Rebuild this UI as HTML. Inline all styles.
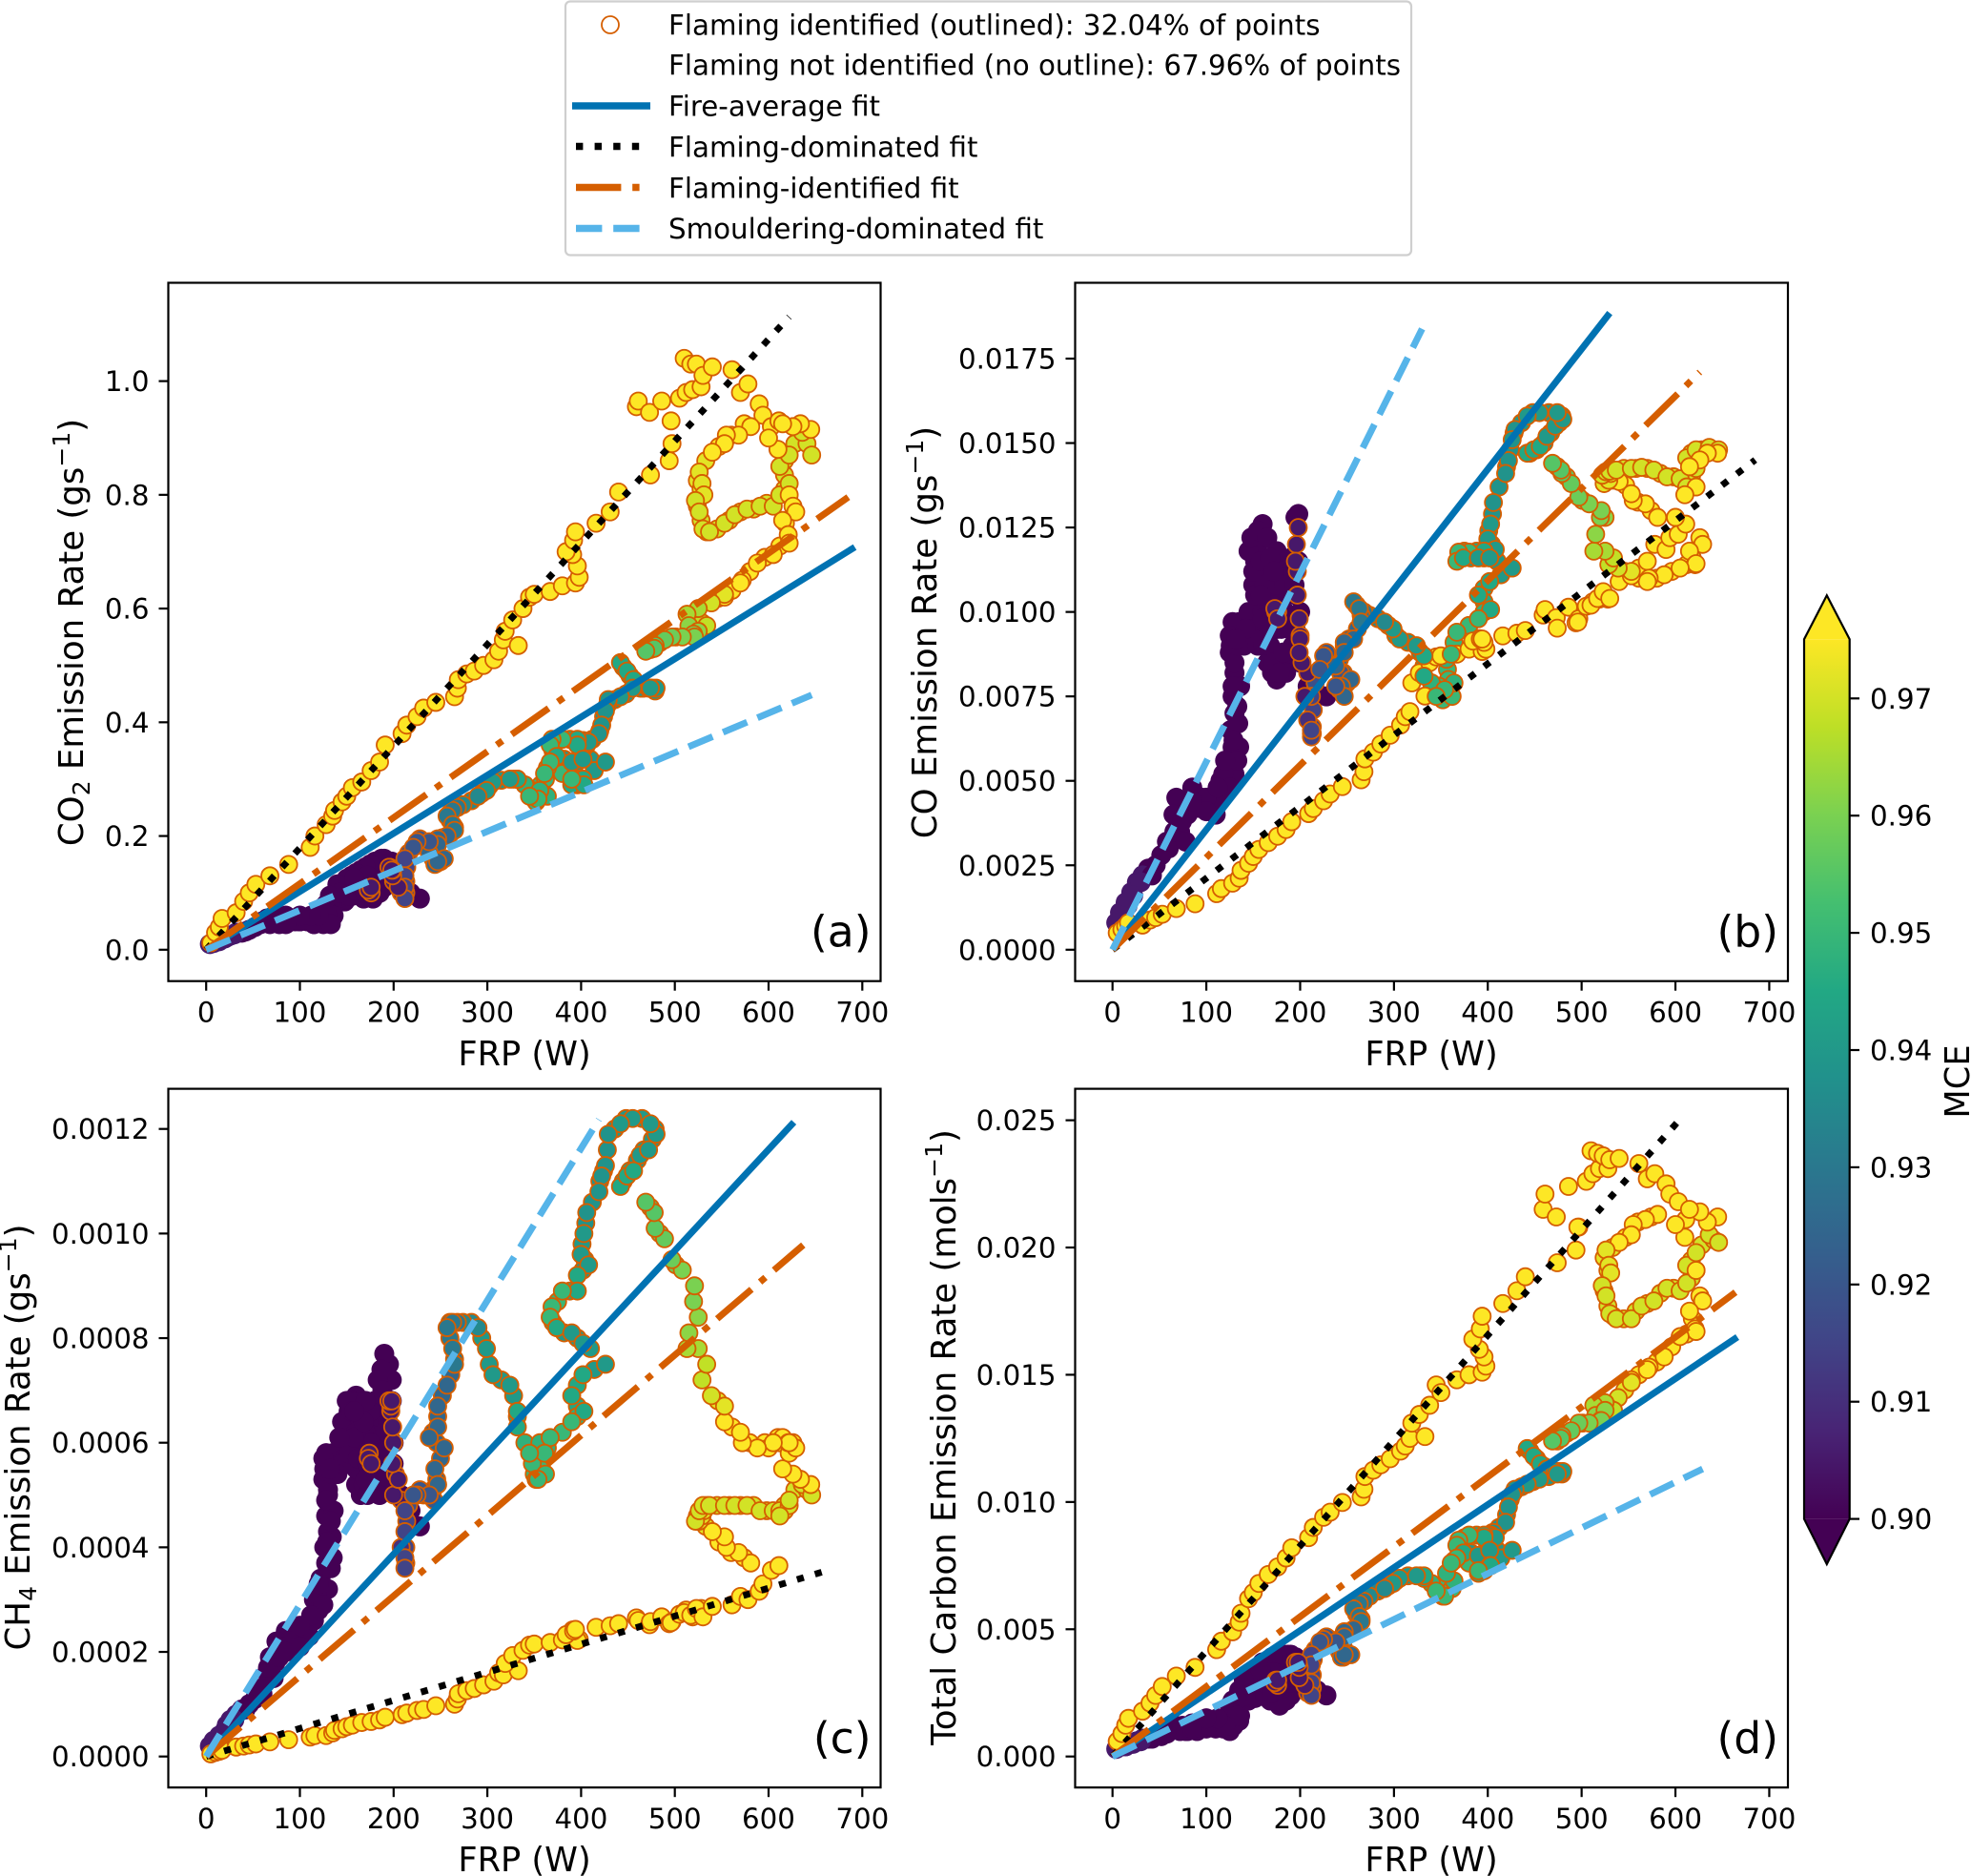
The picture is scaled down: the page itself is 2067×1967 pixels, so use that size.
<!DOCTYPE html>
<html lang="en">
<head>
<meta charset="utf-8">
<title>Emission rate versus FRP</title>
<style>
html,body{margin:0;padding:0;background:#fff;}
svg{display:block;font-family:"DejaVu Sans","Liberation Sans",sans-serif;}
text{fill:#000;}
</style>
</head>
<body>
<svg id="chart" xmlns="http://www.w3.org/2000/svg" width="2067" height="1967" viewBox="0 0 2067 1967">
  <defs>
    <linearGradient id="viridis-gradient" x1="0" y1="1" x2="0" y2="0"></linearGradient>
  </defs>
  <rect x="0" y="0" width="2067" height="1967" fill="#fff"/>
  <g id="panels"></g>

  <g>
    <text x="550" y="1117" font-size="35.2" text-anchor="middle">FRP (W)</text>
    <text x="1501" y="1117" font-size="35.2" text-anchor="middle">FRP (W)</text>
    <text x="550" y="1962" font-size="35.2" text-anchor="middle">FRP (W)</text>
    <text x="1501" y="1962" font-size="35.2" text-anchor="middle">FRP (W)</text>
    <text transform="translate(87,663) rotate(-90)" font-size="35.6" text-anchor="middle">CO<tspan font-size="25" dy="7">2</tspan><tspan dy="-7"> Emission Rate (gs</tspan><tspan font-size="25" dy="-14">−1</tspan><tspan dy="14">)</tspan></text>
    <text transform="translate(982,663) rotate(-90)" font-size="35.6" text-anchor="middle">CO Emission Rate (gs<tspan font-size="25" dy="-14">−1</tspan><tspan dy="14">)</tspan></text>
    <text transform="translate(31,1507) rotate(-90)" font-size="35.6" text-anchor="middle">CH<tspan font-size="25" dy="7">4</tspan><tspan dy="-7"> Emission Rate (gs</tspan><tspan font-size="25" dy="-14">−1</tspan><tspan dy="14">)</tspan></text>
    <text transform="translate(1002,1507) rotate(-90)" font-size="35.6" text-anchor="middle">Total Carbon Emission Rate (mols<tspan font-size="25" dy="-14">−1</tspan><tspan dy="14">)</tspan></text>
  </g>

  <g>
    <rect x="593" y="1.5" width="887" height="266" rx="5" ry="5" fill="#fff" stroke="#cfcfcf" stroke-width="2.2"/>
    <circle cx="640" cy="26" r="9" fill="#fff" stroke="#d55e00" stroke-width="1.8"/>
    <line x1="600" y1="111" x2="682" y2="111" stroke="#0072b2" stroke-width="7.4"/>
    <line x1="604" y1="153.5" x2="682" y2="153.5" stroke="#000" stroke-width="7.4" stroke-dasharray="7.4 12.2"/>
    <line x1="604" y1="196.5" x2="682" y2="196.5" stroke="#d55e00" stroke-width="7.4" stroke-dasharray="47.4 11.8 7.4 11.8"/>
    <line x1="604" y1="239.5" x2="682" y2="239.5" stroke="#56b4e9" stroke-width="7.4" stroke-dasharray="27.4 11.8"/>
    <text x="701" y="36.5" font-size="29.3">Flaming identified (outlined): 32.04% of points</text>
    <text x="701" y="78.5" font-size="29.3">Flaming not identified (no outline): 67.96% of points</text>
    <text x="701" y="121.5" font-size="29.3">Fire-average fit</text>
    <text x="701" y="164.5" font-size="29.3">Flaming-dominated fit</text>
    <text x="701" y="207.5" font-size="29.3">Flaming-identified fit</text>
    <text x="701" y="250" font-size="29.3">Smouldering-dominated fit</text>
  </g>

  <g id="colorbar">
    <polygon points="1892,670.3 1915.800,624.3 1939.700,670.3" fill="#fde725"/>
    <polygon points="1892,1592.6 1915.800,1640 1939.700,1592.6" fill="#440154"/>
    <rect x="1892" y="670.3" width="47.700" height="922.300" fill="url(#viridis-gradient)"/>
    <polygon points="1892,670.3 1915.800,624.3 1939.700,670.3 1939.700,1592.6 1915.800,1640 1892,1592.6" fill="none" stroke="#000" stroke-width="2.2"/>
    <text transform="translate(2065,1134) rotate(-90)" font-size="35.2" text-anchor="middle">MCE</text>
  </g>
</svg>

<script>
/* ---------- shared tick values ---------- */
const frpTicks = [0, 100, 200, 300, 400, 500, 600, 700];
const co2Ticks = [0, 0.2, 0.4, 0.6, 0.8, 1.0];
const co2TickLabels = ["0.0", "0.2", "0.4", "0.6", "0.8", "1.0"];
const coTicks = [0, 0.0025, 0.005, 0.0075, 0.01, 0.0125, 0.015, 0.0175];
const coTickLabels = ["0.0000", "0.0025", "0.0050", "0.0075", "0.0100", "0.0125", "0.0150", "0.0175"];
const ch4Ticks = [0, 0.0002, 0.0004, 0.0006, 0.0008, 0.001, 0.0012];
const ch4TickLabels = ["0.0000", "0.0002", "0.0004", "0.0006", "0.0008", "0.0010", "0.0012"];
const carbonTicks = [0, 0.005, 0.01, 0.015, 0.02, 0.025];
const carbonTickLabels = ["0.000", "0.005", "0.010", "0.015", "0.020", "0.025"];
const mceTicks = [0.90, 0.91, 0.92, 0.93, 0.94, 0.95, 0.96, 0.97];
const mceTickLabels = ["0.90", "0.91", "0.92", "0.93", "0.94", "0.95", "0.96", "0.97"];

/* ---------- fit lines: end FRP then end value; order = fire-average, flaming-dominated, flaming-identified, smouldering-dominated ---------- */
const fitEndFrpCo2 = [692, 622, 685, 646];
const fitEndCo2 = [0.708, 1.113, 0.796, 0.448];
const fitEndFrpCo = [530, 685, 626, 330];
const fitEndCo = [0.01885, 0.0145, 0.0171, 0.01838];
const fitEndFrpCh4 = [627, 667, 637, 419];
const fitEndCh4 = [0.001213, 0.000358, 0.000978, 0.001218];
const fitEndFrpCarbon = [666, 604, 664, 629];
const fitEndCarbon = [0.01648, 0.025, 0.01824, 0.0113];

/* ---------- points with no flaming outline ---------- */
const plainFrp = [228,218,208,200,195,198,198,195,190,187,
183,180,178,175,170,165,160,165,170,162,
160,155,152,150,156,148,140,135,128,126,
125,130,128,130,126,128,122,130,115,120,
108,100,95,85,75,68,65,72,60,52,
46,38,32,26,20,14,8,4,
145,150,155,160,165,168,172,176,180,184,
188,192,200,195,190,185,178,150,145,148,
155,165,175,180,175,170,160,150,140,125,
130,134,136,134,135,118,125,90,80,110,
58,42,30,22,16,10,66,74,78,115,100,
152,158,162,168,172,158,170,182,188,194,
142,132,128,133,129,133,120,112,100,85];
const plainCo2 = [.09,.1,.11,.13,.14,.15,.155,.155,.16,.16,
.155,.15,.14,.13,.12,.11,.11,.12,.13,.13,
.125,.115,.11,.1,.095,.085,.09,.09,.08,.06,
.05,.05,.055,.05,.05,.05,.05,.05,.045,.05,
.05,.05,.05,.06,.06,.045,.055,.05,.05,.04,
.035,.03,.03,.025,.02,.015,.012,.01,
.085,.09,.095,.1,.1,.09,.105,.115,.125,.135,
.145,.15,.14,.12,.11,.1,.09,.11,.1,.105,
.13,.14,.145,.155,.15,.145,.135,.125,.115,.075,
.07,.08,.06,.055,.06,.05,.045,.055,.05,.05,
.045,.032,.027,.022,.018,.014,.05,.055,.045,.045,.05,
.095,.105,.115,.125,.13,.125,.1,.115,.125,.13,
.1,.095,.065,.05,.06,.045,.06,.06,.06,.045];
const plainCo = [.0075,.0076,.0078,.0085,.0095,.0115,.0129,.0128,.0116,.011,
.0105,.0095,.0085,.008,.0082,.0085,.0095,.0105,.0115,.0122,
.0126,.012,.0115,.0108,.0102,.0097,.0095,.0097,.0097,.009,
.0088,.0082,.0075,.007,.0065,.006,.0055,.0052,.005,.0046,
.0043,.0042,.0045,.0048,.0042,.0045,.004,.0035,.003,.0028,
.0025,.0024,.0022,.002,.0017,.0014,.0011,.0008,
.01,.0095,.009,.01,.011,.009,.0085,.0095,.0105,.01,
.0095,.009,.01,.0105,.0085,.0082,.0082,.0112,.0118,.0122,
.0124,.0122,.0118,.0112,.0108,.0102,.0098,.0092,.009,.0093,
.0085,.009,.0078,.0067,.006,.0052,.0048,.0042,.004,.004,
.0032,.0022,.002,.0016,.0013,.001,.0035,.0038,.0032,.0045,.0045,
.0105,.0115,.0108,.0116,.0112,.0105,.0095,.0088,.0098,.0108,
.0095,.0092,.0078,.0072,.0062,.0056,.0056,.0048,.0041,.0044];
const plainCh4 = [.00044,.00047,.0005,.00056,.00062,.00068,.00072,.00075,.00077,.00074,
.00072,.00068,.00062,.00055,.00052,.0005,.00052,.00058,.00062,.00066,
.00069,.00068,.00066,.00064,.0006,.00056,.00058,.00058,.00058,.00055,
.00053,.0005,.00046,.00043,.0004,.00037,.00034,.00032,.0003,.00028,
.00025,.00024,.00023,.00024,.00022,.00019,.00016,.00015,.00012,.00011,
.0001,.00009,.00008,.00007,.00005,.00004,.00003,.00002,
.0006,.00063,.00058,.00055,.0006,.00052,.0005,.00055,.0006,.00065,
.0007,.00062,.0006,.00055,.00052,.0005,.00056,.00068,.00064,.0006,
.00066,.00064,.0006,.00058,.00066,.00068,.00062,.00056,.00054,.00057,
.00051,.00054,.00047,.00042,.00038,.00031,.00029,.00022,.00021,.00023,
.00013,.00009,.00007,.00006,.00004,.00003,.00017,.00018,.00019,.00026,.00021,
.00058,.00061,.00057,.00064,.00056,.00066,.00053,.00054,.00058,.00064,
.00061,.00055,.00049,.00045,.00041,.00036,.00033,.00027,.00025,.0002];
const plainCarbon = [.0024,.0026,.0027,.003,.0034,.0036,.0038,.0039,.004,.004,
.004,.0039,.0037,.0034,.0032,.003,.003,.0032,.0034,.0035,
.0033,.0031,.003,.0028,.0026,.0026,.0028,.0026,.0022,.0016,
.0014,.0013,.0013,.0013,.0013,.0013,.0013,.0014,.0013,.0013,
.0013,.0012,.0012,.0013,.0012,.0012,.0011,.001,.001,.0008,
.0008,.0007,.0007,.0006,.0005,.0004,.0004,.0003,
.0022,.0024,.0026,.0028,.003,.0022,.0024,.0028,.0032,.0036,
.0034,.0032,.0028,.0026,.0024,.0022,.002,.003,.0026,.0032,
.0034,.0036,.0038,.0037,.004,.0039,.0037,.0033,.003,.002,
.0018,.0021,.0016,.0015,.0014,.0011,.001,.001,.001,.0011,
.0009,.0007,.0006,.0005,.0005,.0004,.0011,.0012,.001,.0012,.0011,
.0023,.0026,.0029,.0031,.0033,.0034,.0025,.0027,.0029,.0031,
.0024,.0023,.0017,.0015,.0012,.0016,.0012,.0015,.0015,.0011];
const plainMce = [.9,.9,.9,.9,.9,.9,.9,.9,.9,.9,
.9,.9,.9,.9,.9,.9,.9,.9,.9,.9,
.9,.9,.9,.9,.9,.9,.9,.9,.9,.9,
.9,.9,.9,.9,.9,.9,.9,.9,.9,.9,
.9,.9,.9,.9,.9,.9,.9,.9,.9,.9,
.9,.9,.905,.905,.905,.905,.905,.905,
.9,.9,.9,.9,.9,.9,.9,.9,.9,.9,
.9,.9,.9,.9,.9,.9,.9,.9,.9,.9,
.9,.9,.9,.9,.9,.9,.9,.9,.9,.9,
.9,.9,.9,.9,.9,.9,.9,.9,.9,.9,
.9,.9,.905,.905,.905,.905,.9,.9,.9,.9,.9,
.9,.9,.9,.9,.9,.9,.9,.9,.9,.9,
.9,.9,.9,.9,.9,.9,.9,.9,.9,.9];

/* ---------- additional outlined points along the dense return path (drawn underneath) ---------- */
const trackFrp = [574,560,547,533,524,528,524,528,534,545,
558,570,584,598,617,617,617,628,641,618,
612,596,580,561,546,501,484,474,445,452,
460,467,476,479,465,448,436,428,424,420,
412,405,401,404,402,388,375,370,382,396,
410,414,396,396,396,380,364,357,350,358,
348,340,352,362,364,356,332,328,315,302,
294,283,274,268,260,260,265,261,252,247,
242,246,250,246,242,243,232,228,216,214,
213,213,208,208,202,200,197,197,196,200,
176,174];
const trackCo2 = [.925,.905,.885,.86,.825,.81,.78,.755,.735,.74,
.755,.77,.775,.785,.81,.835,.86,.89,.89,.75,
.71,.69,.665,.632,.618,.55,.54,.528,.497,.482,
.467,.46,.46,.455,.46,.45,.44,.43,.41,.385,
.37,.358,.352,.36,.368,.37,.37,.35,.335,.33,
.335,.315,.295,.29,.295,.31,.32,.29,.265,.28,
.28,.29,.26,.3,.27,.28,.3,.3,.298,.288,
.275,.262,.255,.25,.24,.228,.215,.205,.197,.19,
.178,.165,.155,.152,.16,.175,.19,.195,.17,.145,
.12,.1,.1,.12,.125,.135,.14,.142,.145,.12,
.1,.108];
const trackCo = [.013,.01325,.01375,.0139,.0138,.014,.0141,.0141,.0142,.01425,
.01425,.01425,.0141,.014,.014,.0143,.0147,.0148,.0148,.0116,
.0114,.0112,.011,.011,.0112,.0133,.014,.0143,.0147,.0148,
.015,.0153,.0156,.0158,.0159,.0159,.0156,.0153,.0148,.0143,
.0137,.0129,.0124,.012,.0119,.0118,.0118,.0116,.0116,.0116,
.0115,.0111,.0107,.0103,.01,.0096,.0091,.0083,.0076,.008,
.0078,.0079,.0074,.0075,.0079,.0086,.0084,.0088,.0091,.0093,
.0096,.0098,.0099,.01,.0102,.0102,.0099,.0095,.0092,.009,
.0086,.0082,.0079,.0076,.0077,.0082,.0085,.0088,.0079,.0071,
.0066,.0064,.0068,.0082,.0085,.0093,.0105,.0112,.012,.0092,
.01,.01];
const trackCh4 = [.00038,.00039,.00041,.00044,.00045,.00046,.00046,.00047,.00048,.00048,
.00048,.00048,.00048,.00047,.00047,.00047,.00048,.00051,.00051,.0006,
.0006,.0006,.0006,.00063,.00068,.00094,.001,.00105,.0011,.00112,
.00114,.00116,.00118,.0012,.00122,.00122,.0012,.00116,.00112,.0011,
.00106,.00102,.00098,.00095,.00093,.00089,.00087,.00083,.00081,.0008,
.00078,.00074,.00071,.00067,.00065,.00062,.0006,.00056,.00054,.00055,
.00056,.0006,.00053,.00054,.00059,.0006,.00065,.00069,.00072,.00075,
.0008,.00083,.00083,.00083,.00083,.0008,.00076,.00073,.00069,.00065,
.00062,.0006,.00057,.00053,.00051,.00049,.0005,.00051,.00048,.00045,
.0004,.00037,.0004,.00049,.00054,.0006,.00066,.00067,.00068,.0005,
.00056,.00058];
const trackCarbon = [.0212,.021,.0204,.02,.0196,.0191,.0183,.0177,.0173,.0172,
.0175,.0178,.0182,.0184,.0188,.0192,.0195,.0201,.0203,.0172,
.0166,.0161,.0155,.015,.0144,.0131,.0127,.0124,.012,.0117,
.0114,.0113,.0112,.0111,.011,.0108,.0106,.0104,.0101,.0095,
.009,.0088,.0087,.00865,.0086,.0087,.0086,.0082,.008,.008,
.0081,.0078,.0073,.0073,.0074,.0076,.0077,.007,.0064,.0066,
.0067,.0068,.0063,.0066,.0069,.0072,.007,.0071,.0071,.0069,
.0067,.0065,.0063,.0061,.0059,.0056,.0054,.0051,.0049,.0048,
.0046,.0043,.004,.0039,.0041,.0043,.0046,.0047,.0042,.0038,
.0032,.0027,.0025,.003,.003,.0033,.0036,.0037,.0037,.0033,
.0028,.003];
const trackMce = [.975,.975,.975,.972,.972,.972,.97,.97,.97,.97,
.97,.97,.97,.97,.97,.97,.97,.97,.97,.975,
.975,.975,.975,.975,.972,.958,.956,.955,.945,.945,
.94,.94,.94,.94,.94,.94,.94,.938,.938,.938,
.938,.938,.94,.94,.94,.945,.95,.948,.94,.94,
.94,.94,.945,.945,.948,.95,.95,.95,.95,.95,
.95,.948,.95,.95,.948,.948,.945,.94,.94,.94,
.94,.935,.935,.93,.93,.93,.93,.925,.925,.925,
.925,.925,.925,.925,.92,.92,.92,.92,.918,.915,
.915,.915,.91,.905,.905,.905,.905,.905,.905,.905,
.905,.905];

/* ---------- main sequence of outlined points ---------- */
const flamingFrp = [5,10,14,17,32,40,46,53,68,88,
111,116,128,135,137,145,150,156,166,176,
185,191,209,214,225,232,245,265,268,269,
278,286,296,307,312,317,333,319,327,338,
345,350,367,380,394,398,396,391,384,392,
394,416,431,440,459,461,473,474,486,494,
497,496,505,512,519,528,510,517,523,530,
540,561,570,578,590,594,603,611,581,568,
555,553,540,526,529,531,522,526,530,537,
553,564,577,591,605,612,622,612,622,636,
646,645,634,626,615,622,610,600,626,629,
615,621,622,605,588,572,570,553,553,539,
529,534,525,513,515,525,520,521,508,497,
489,479,478,469,442,449,456,463,472,480,
474,455,442,429,426,422,419,406,403,400,
408,396,396,380,369,367,374,390,402,426,
402,390,403,390,367,361,354,345,332,332,
324,306,299,290,263,257,263,265,257,247,
247,238,254,244,247,238,225,221,212,212,
212,212,205,199,199,195,198,173,176];
const flamingCo2 = [.012,.03,.04,.055,.065,.085,.1,.115,.13,.15,
.18,.2,.22,.235,.245,.26,.27,.285,.295,.315,
.33,.36,.38,.395,.41,.425,.435,.445,.46,.475,
.485,.49,.5,.51,.525,.545,.535,.56,.58,.6,
.62,.625,.63,.64,.645,.655,.675,.695,.7,.72,
.735,.75,.77,.805,.955,.965,.945,.835,.965,.86,
.89,.93,.97,.98,.985,.99,1.04,1.03,1.03,1.01,
1.025,1.02,.98,.995,.96,.94,.92,.93,.92,.905,
.905,.89,.875,.84,.82,.8,.79,.77,.74,.735,
.75,.765,.775,.78,.78,.8,.82,.85,.87,.91,
.87,.915,.925,.92,.925,.8,.88,.9,.78,.77,
.755,.73,.715,.695,.68,.65,.645,.62,.625,.61,
.575,.57,.6,.59,.57,.56,.555,.55,.55,.55,
.545,.535,.53,.525,.505,.49,.475,.46,.46,.46,
.46,.46,.445,.44,.42,.395,.38,.36,.355,.35,
.365,.37,.36,.37,.37,.36,.34,.33,.335,.33,
.3,.29,.29,.3,.33,.31,.265,.27,.3,.3,
.3,.295,.28,.27,.245,.235,.22,.21,.2,.195,
.185,.17,.16,.15,.155,.19,.19,.18,.16,.13,
.11,.09,.11,.13,.14,.145,.14,.105,.11];
const flamingCo = [.0005,.0006,.0007,.0008,.00073,.00088,.00095,.00105,.00122,.00136,
.00166,.00181,.00197,.00212,.00235,.00256,.00276,.00297,.00317,.00336,
.00356,.00379,.00403,.00418,.00441,.00461,.00483,.00503,.00527,.00565,
.00585,.00609,.00635,.00665,.0069,.00705,.00751,.0079,.0082,.0085,
.00867,.0087,.00875,.0089,.00883,.0089,.0091,.00921,.00914,.0092,
.0092,.00929,.00937,.00945,.00991,.01007,.00983,.00952,.01014,.00968,
.0098,.0097,.01017,.0103,.01038,.01038,.0102,.0104,.0106,.0104,
.0109,.0113,.0115,.012,.01185,.0122,.0123,.0126,.0128,.0132,
.0133,.0135,.01386,.014,.0139,.0141,.01405,.01415,.01417,.0142,
.01425,.01428,.0142,.014,.01394,.0137,.01425,.01456,.0148,.01487,
.0148,.0147,.0147,.0145,.0143,.0137,.01347,.0128,.0122,.012,
.0118,.0114,.01143,.0113,.0111,.011,.0109,.01107,.0112,.0113,
.0114,.0116,.0118,.0118,.0123,.0128,.0128,.013,.0132,.0134,
.0138,.0141,.0142,.0144,.0147,.0148,.0149,.0152,.0155,.0157,
.0159,.0159,.0158,.0154,.0151,.01448,.0141,.01324,.0126,.01216,
.01185,.0118,.0118,.01177,.01177,.0115,.0116,.0116,.0116,.0113,
.0109,.0105,.01007,.0098,.0094,.00875,.0077,.0075,.0081,.0087,
.009,.0092,.0095,.0097,.0101,.0103,.0101,.0097,.0092,.0091,
.0088,.0084,.008,.0078,.0075,.0078,.0087,.0083,.0075,.0064,
.0063,.0065,.0075,.0088,.0098,.0115,.0125,.0101,.0098];
const flamingCh4 = [.000005,.000008,.00001,.000012,.000018,.00002,.000022,.000024,.000028,.000032,
.000037,.00004,.00004,.000045,.00005,.000053,.000057,.00006,.000065,.000067,
.00007,.000075,.00008,.000083,.000088,.00009,.000097,.0001,.00011,.00012,
.000126,.00013,.000137,.000144,.00016,.000156,.000164,.000178,.000193,.000203,
.000213,.000215,.000218,.000223,.000228,.000224,.000222,.000242,.000233,.00024,
.000243,.000247,.00025,.000254,.000265,.00026,.000252,.000258,.000267,.000254,
.000258,.000256,.000272,.00028,.000267,.000283,.000275,.00027,.000283,.000267,
.000287,.00029,.000306,.0003,.000316,.00033,.000356,.000365,.00037,.00039,
.0004,.00042,.00043,.00045,.00046,.00047,.00045,.00047,.00048,.00048,
.00048,.00048,.00048,.00047,.00047,.00047,.00048,.00046,.00049,.00052,
.0005,.00052,.00053,.00054,.00055,.00058,.00061,.00059,.0006,.00059,
.00061,.0006,.0006,.0006,.00059,.0006,.00062,.00064,.00067,.00069,
.00072,.00075,.00078,.00078,.00081,.00084,.00087,.0009,.00093,.00095,
.00099,.00101,.00104,.00106,.00109,.00111,.00112,.00115,.00116,.00119,
.00121,.00122,.00121,.00119,.00113,.00111,.00108,.00104,.001,.00096,
.00094,.00092,.00089,.00089,.00086,.00084,.00082,.00081,.00079,.00075,
.00073,.00069,.00066,.00064,.00061,.00058,.00053,.00058,.00063,.00066,
.00071,.00073,.00078,.00082,.00083,.00082,.00078,.00075,.00071,.00067,
.00063,.00061,.00059,.00055,.00052,.0005,.0005,.0005,.00047,.00043,
.00038,.00036,.00053,.00056,.00063,.00068,.00068,.00057,.00056];
const flamingCarbon = [.0006,.0009,.00123,.0015,.00178,.0021,.0024,.00275,.00316,.0035,
.0042,.00453,.0049,.00528,.00563,.0062,.00644,.0068,.00715,.00745,
.0078,.0082,.0086,.009,.0094,.0096,.00998,.0102,.0105,.011,
.01125,.01146,.0117,.012,.0122,.0125,.01257,.0131,.01344,.0138,
.0146,.0143,.0148,.015,.0151,.01534,.0157,.016,.0164,.0168,
.0173,.0178,.0183,.01885,.0215,.0221,.0212,.0194,.0224,.0199,
.0208,.0208,.0226,.0229,.0231,.0231,.0238,.0237,.0236,.02345,
.0235,.0233,.0227,.0229,.0225,.0221,.0218,.0211,.0213,.0211,
.0209,.0205,.0202,.0199,.0193,.019,.0185,.0181,.0174,.0172,
.0172,.0177,.0179,.0184,.0183,.0186,.0191,.0193,.0198,.0205,
.0202,.0212,.021,.0214,.0215,.0191,.0204,.0209,.0181,.0179,
.0175,.0168,.0167,.0165,.0157,.0153,.0152,.0148,.0147,.0141,
.0137,.0136,.0139,.0138,.0134,.0136,.0132,.0132,.0131,.0131,
.0128,.0126,.0125,.0124,.0121,.0118,.0115,.0113,.0112,.0112,
.0111,.0109,.0107,.0105,.0103,.0098,.0092,.0088,.0087,.0087,
.0086,.0087,.0086,.0087,.0085,.0083,.008,.0079,.0081,.0081,
.0075,.0072,.0075,.0073,.0078,.0076,.0063,.0065,.007,.0071,
.0071,.007,.0068,.0066,.006,.0058,.0055,.0053,.005,.0049,
.0047,.0045,.004,.0039,.004,.0045,.0046,.0045,.004,.0036,
.0029,.0024,.0028,.0031,.0035,.0037,.0037,.0029,.003];
const flamingMce = [.98,.98,.98,.98,.98,.98,.98,.98,.98,.98,
.98,.98,.98,.98,.98,.98,.98,.98,.98,.98,
.98,.98,.98,.98,.98,.98,.98,.98,.98,.98,
.98,.98,.98,.98,.98,.98,.98,.98,.98,.98,
.98,.98,.98,.98,.98,.98,.98,.98,.98,.98,
.98,.98,.98,.98,.98,.98,.98,.98,.98,.98,
.98,.98,.98,.98,.98,.98,.98,.98,.98,.98,
.98,.98,.98,.98,.98,.98,.98,.98,.975,.975,
.975,.975,.975,.972,.972,.972,.97,.97,.97,.97,
.97,.97,.97,.97,.97,.97,.97,.97,.97,.97,
.97,.975,.975,.975,.975,.975,.975,.975,.975,.975,
.975,.975,.975,.975,.975,.975,.975,.975,.972,.97,
.968,.968,.965,.965,.962,.962,.96,.96,.96,.958,
.957,.956,.955,.955,.945,.945,.945,.94,.94,.94,
.94,.94,.94,.938,.938,.938,.938,.938,.94,.94,
.94,.945,.945,.95,.95,.95,.945,.94,.94,.94,
.945,.945,.945,.95,.95,.95,.95,.95,.945,.945,
.94,.94,.94,.935,.93,.93,.93,.93,.925,.925,
.925,.925,.925,.925,.925,.92,.92,.92,.915,.915,
.915,.915,.905,.905,.905,.905,.905,.905,.905];

/* ---------- viridis colour scale ---------- */
const viridisColors = ["#440154","#482475","#414487","#355f8d","#2a788e","#21918c","#22a884","#44bf70","#7ad151","#bddf26","#fde725"];
const mceMin = 0.90;
const mceMax = 0.975;

const SVG_NS = "http://www.w3.org/2000/svg";
const panelsGroup = document.getElementById("panels");
const colorbarGroup = document.getElementById("colorbar");

function hexToRgb(hex) {
  return [parseInt(hex.slice(1, 3), 16), parseInt(hex.slice(3, 5), 16), parseInt(hex.slice(5, 7), 16)];
}
function mceColor(value) {
  const t = Math.max(0, Math.min(1, (value - mceMin) / (mceMax - mceMin))) * (viridisColors.length - 1);
  const i = Math.min(viridisColors.length - 2, Math.floor(t));
  const f = t - i;
  const a = hexToRgb(viridisColors[i]);
  const b = hexToRgb(viridisColors[i + 1]);
  return "rgb(" + [0, 1, 2].map(function (k) { return Math.round(a[k] + (b[k] - a[k]) * f); }).join(",") + ")";
}
function make(tag, parent, attrs) {
  const el = document.createElementNS(SVG_NS, tag);
  Object.keys(attrs).forEach(function (k) { el.setAttribute(k, attrs[k]); });
  parent.appendChild(el);
  return el;
}

const fitStyles = [
  { key: "fire-average", color: "#0072b2", dash: "none" },
  { key: "flaming-dominated", color: "#000000", dash: "7.4 12.2" },
  { key: "flaming-identified", color: "#d55e00", dash: "47.4 11.8 7.4 11.8" },
  { key: "smouldering-dominated", color: "#56b4e9", dash: "27.4 11.8" }
];

function drawPanel(cfg) {
  const xScale = function (v) { return cfg.xZero + v * cfg.xPerUnit; };
  const yScale = function (v) { return cfg.yZero - v * cfg.yPerUnit; };

  const panel = make("g", panelsGroup, {});
  
  

  const plainGroup = make("g", panel, {});
  
  
  cfg.plainY.forEach(function (value, i) {
    const dot = make("circle", plainGroup, { cx: xScale(plainFrp[i]), cy: yScale(value), r: 10.5, fill: mceColor(plainMce[i]) });
    
    
  });

  const trackGroup = make("g", panel, {});
  
  
  cfg.trackY.forEach(function (value, i) {
    const dot = make("circle", trackGroup, { cx: xScale(trackFrp[i]), cy: yScale(value), r: 9, fill: mceColor(trackMce[i]), stroke: "#d55e00", "stroke-width": 1.8 });
    
    
  });

  const flamingGroup = make("g", panel, {});
  
  
  cfg.flamingY.forEach(function (value, i) {
    const dot = make("circle", flamingGroup, { cx: xScale(flamingFrp[i]), cy: yScale(value), r: 9, fill: mceColor(flamingMce[i]), stroke: "#d55e00", "stroke-width": 1.8 });
    
    
  });

  fitStyles.forEach(function (style, i) {
    const fit = make("line", panel, {
      x1: xScale(0), y1: yScale(0), x2: xScale(cfg.fitFrp[i]), y2: yScale(cfg.fitValue[i]),
      stroke: style.color, "stroke-width": 7, "stroke-dasharray": style.dash
    });
    
    
  });

  const frame = make("rect", panel, { x: cfg.left, y: cfg.top, width: cfg.right - cfg.left, height: cfg.bottom - cfg.top, fill: "none", stroke: "#000", "stroke-width": 2.2 });
  
  

  frpTicks.forEach(function (tick) {
    const x = xScale(tick);
    const mark = make("line", panel, { x1: x, y1: cfg.bottom, x2: x, y2: cfg.bottom + 10, stroke: "#000", "stroke-width": 2.2 });
    
    
    const label = make("text", panel, { x: x, y: cfg.bottom + 43, "font-size": 29.3, "text-anchor": "middle" });
    
    
    label.textContent = String(tick);
  });

  cfg.yTicks.forEach(function (tick, i) {
    const y = yScale(tick);
    const mark = make("line", panel, { x1: cfg.left - 10, y1: y, x2: cfg.left, y2: y, stroke: "#000", "stroke-width": 2.2 });
    
    
    const label = make("text", panel, { x: cfg.left - 20, y: y + 10.5, "font-size": 29.3, "text-anchor": "end" });
    
    
    label.textContent = cfg.yLabels[i];
  });

  const letter = make("text", panel, { x: cfg.right - 10, y: cfg.bottom - 36, "font-size": 45.6, "text-anchor": "end" });
  
  
  letter.textContent = "(" + cfg.id + ")";
}

drawPanel({ id: "a", left: 176.5, right: 923.5, top: 296.5, bottom: 1028.7, xZero: 216.2, xPerUnit: 0.983, yZero: 995.8, yPerUnit: 596.2,
  plainY: plainCo2, trackY: trackCo2, flamingY: flamingCo2, yTicks: co2Ticks, yLabels: co2TickLabels, fitFrp: fitEndFrpCo2, fitValue: fitEndCo2 });
drawPanel({ id: "b", left: 1127.5, right: 1875, top: 296.5, bottom: 1028.7, xZero: 1166.7, xPerUnit: 0.9839, yZero: 995.8, yPerUnit: 35417,
  plainY: plainCo, trackY: trackCo, flamingY: flamingCo, yTicks: coTicks, yLabels: coTickLabels, fitFrp: fitEndFrpCo, fitValue: fitEndCo });
drawPanel({ id: "c", left: 176.5, right: 923.5, top: 1141.6, bottom: 1874.2, xZero: 216.2, xPerUnit: 0.983, yZero: 1841.7, yPerUnit: 548333,
  plainY: plainCh4, trackY: trackCh4, flamingY: flamingCh4, yTicks: ch4Ticks, yLabels: ch4TickLabels, fitFrp: fitEndFrpCh4, fitValue: fitEndCh4 });
drawPanel({ id: "d", left: 1127.5, right: 1875, top: 1141.6, bottom: 1874.2, xZero: 1166.7, xPerUnit: 0.9839, yZero: 1841.7, yPerUnit: 26684,
  plainY: plainCarbon, trackY: trackCarbon, flamingY: flamingCarbon, yTicks: carbonTicks, yLabels: carbonTickLabels, fitFrp: fitEndFrpCarbon, fitValue: fitEndCarbon });

/* colour bar gradient and ticks */
const gradient = document.getElementById("viridis-gradient");
viridisColors.forEach(function (color, i) {
  make("stop", gradient, { offset: (i / (viridisColors.length - 1)) * 100 + "%", "stop-color": color });
});
mceTicks.forEach(function (tick, i) {
  const y = 1592.6 - (tick - mceMin) * 12290;
  const mark = make("line", colorbarGroup, { x1: 1939.7, y1: y, x2: 1950, y2: y, stroke: "#000", "stroke-width": 2.2 });
  
  
  const label = make("text", colorbarGroup, { x: 1961, y: y + 10.5, "font-size": 29.3 });
  
  
  label.textContent = mceTickLabels[i];
});
</script>
</body>
</html>
